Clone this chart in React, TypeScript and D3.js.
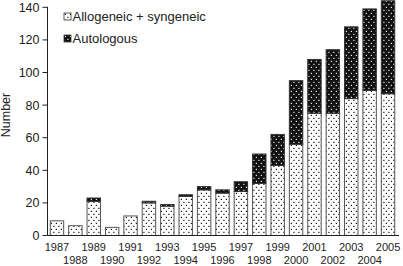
import React from "react";
import * as d3 from "d3";

const years = ["1987","1988","1989","1990","1991","1992","1993","1994","1995","1996","1997","1998","1999","2000","2001","2002","2003","2004","2005"];
const allogeneic = [9, 6, 21, 5, 12, 20, 18, 24, 28, 26, 27, 32, 43, 56, 75, 75, 84, 89, 87];
const autologous = [0, 0, 2, 0, 0, 1, 1, 1, 2, 2, 6, 18, 19, 39, 33, 39, 44, 50, 57];
const yTicks = [0, 20, 40, 60, 80, 100, 120, 140];
const legendLabels = ["Allogeneic + syngeneic", "Autologous"];

const W = 403, H = 266;
const FONT = "'Liberation Sans', Arial, Helvetica, sans-serif";

export default function App() {
  const x = d3.scaleBand<string>().domain(years).range([47.5, 397.5]).paddingInner(0.27).paddingOuter(0.15);
  const y = d3.scaleLinear().domain([0, 140]).range([235.5, 7.3]);
  const bw = x.bandwidth();
  const axisX = 47.5;
  const base = y(0);

  return (
    <svg width={W} height={H} style={{ position: "absolute", left: 0, top: 0, background: "#fff" }} fontFamily={FONT}>
      <defs>
        <pattern id="pAllo" patternUnits="userSpaceOnUse" width="5" height="6">
          <rect width="5" height="6" fill="#fff" />
          <rect x="0.8" y="0.8" width="1.2" height="1.2" fill="#111" />
          <rect x="3.3" y="3.8" width="1.2" height="1.2" fill="#111" />
        </pattern>
        <pattern id="pAuto" patternUnits="userSpaceOnUse" width="5" height="6">
          <rect width="5" height="6" fill="#121212" />
          <rect x="0.8" y="0.8" width="1.2" height="1.2" fill="#e8e8e8" />
          <rect x="3.3" y="3.8" width="1.2" height="1.2" fill="#e8e8e8" />
        </pattern>
      </defs>

      {years.map((yr, i) => {
        const x0 = x(yr)!;
        const a = allogeneic[i];
        const b = autologous[i];
        return (
          <g key={yr}>
            <rect x={x0} y={y(a)} width={bw} height={base - y(a)} fill="url(#pAllo)" stroke="#555" strokeWidth={1} />
            {b > 0 && (
              <rect x={x0} y={y(a + b)} width={bw} height={y(a) - y(a + b)} fill="url(#pAuto)" stroke="#333" strokeWidth={1} />
            )}
          </g>
        );
      })}

      {/* axes */}
      <line x1={axisX} x2={axisX} y1={y(140) - 0.5} y2={base} stroke="#222" strokeWidth={1} />
      <line x1={axisX} x2={399} y1={base} y2={base} stroke="#222" strokeWidth={1} />
      {yTicks.map((t) => (
        <g key={t}>
          <line x1={axisX - 5} x2={axisX} y1={y(t)} y2={y(t)} stroke="#222" strokeWidth={1} />
          <text x={axisX - 8} y={y(t)} dy="0.36em" textAnchor="end" fontSize={12.5} fill="#222">{t}</text>
        </g>
      ))}
      {years.map((yr, i) => (
        <text key={"t" + yr} x={x(yr)! + bw / 2} y={i % 2 === 0 ? 250.5 : 263.5} textAnchor="middle" fontSize={11} fill="#222">{yr}</text>
      ))}
      <text transform={`translate(10,${115}) rotate(-90)`} textAnchor="middle" fontSize={12.5} fill="#222">Number</text>

      {/* legend */}
      {legendLabels.map((lab, i) => (
        <g key={lab} transform={`translate(64,${13 + i * 22})`}>
          <rect x={0} y={0} width={7} height={7} fill={i === 0 ? "url(#pAllo)" : "url(#pAuto)"} stroke="#333" strokeWidth={0.8} />
          <text x={8.5} y={7.5} fontSize={13} fill="#222">{lab}</text>
        </g>
      ))}
    </svg>
  );
}
